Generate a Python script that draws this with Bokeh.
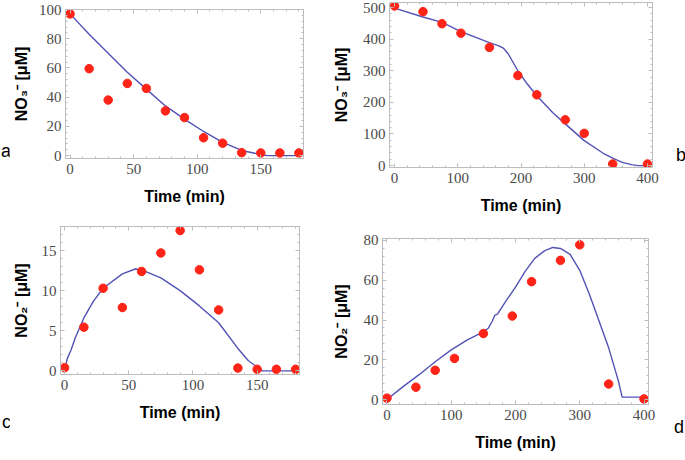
from bokeh.plotting import figure
from bokeh.layouts import column, row
from bokeh.models import Range1d, SingleIntervalTicker, LinearAxis, Div
from bokeh.embed import file_html
from bokeh.resources import INLINE

# ---------------- data ----------------
# panel a: NO3- , short experiment
a_time = [0, 15, 30, 45, 60, 75, 90, 105, 120, 135, 150, 165, 180]
a_no3 = [97, 59.5, 38, 49.4, 46, 30.6, 26, 12.2, 8.5, 2, 1.8, 1.8, 1.8]
a_fit_time = [0, 15, 30, 45, 60, 75, 90, 105, 120, 135, 150, 155, 165, 180]
a_fit_no3 = [97, 83, 70, 57, 45.5, 34, 25, 16.5, 9, 3.5, 0.7, 0, 0, 0]

# panel b: NO3- , long experiment
b_time = [0, 45, 75, 105, 150, 195, 225, 270, 300, 345, 400]
b_no3 = [505, 487, 449, 419, 374, 285, 224, 145, 102, 5, 5]
b_fit_time = [0, 45, 75, 105, 150, 165, 172, 180, 195, 210, 225, 250, 270, 300, 330, 345, 360, 375, 385, 400]
b_fit_no3 = [498, 470, 453, 424, 389, 379, 372, 353, 300, 258, 221, 168, 132, 79, 39, 24, 10, 3, 0, 0]

# panel c: NO2- , short experiment
c_time = [0, 15, 30, 45, 60, 75, 90, 105, 120, 135, 150, 165, 180]
c_no2 = [0.4, 5.45, 10.3, 7.9, 12.4, 14.7, 17.5, 12.6, 7.6, 0.35, 0.2, 0.2, 0.2]
c_fit_time = [0, 2, 5, 8.5, 15, 22.5, 30, 45, 55, 60, 75, 90, 105, 120, 135, 143, 154, 165, 180]
c_fit_no2 = [0, 1.5, 2.6, 4.2, 6.6, 8.7, 10.3, 12.1, 12.7, 12.6, 11.6, 10.0, 8.1, 6.0, 2.8, 1.3, 0, 0, 0]

# panel d: NO2- , long experiment
d_time = [0, 45, 75, 105, 150, 195, 225, 270, 300, 345, 400]
d_no2 = [0.7, 6.2, 14.7, 20.7, 33.2, 42, 59.3, 70, 77.8, 7.8, 0.3]
d_fit_time = [0, 25, 50, 75, 100, 125, 150, 158, 164, 168, 172, 176, 186, 200, 215, 230, 245, 258,
              270, 285, 300, 315, 330, 345, 360, 366, 400]
d_fit_no2 = [0, 6.5, 12.5, 19, 25, 30, 34, 36, 39.5, 42.5, 43, 45, 50, 56.5, 64.5, 71, 74.8, 76.5,
             76, 73, 65, 53, 39.5, 26, 9.5, 1.2, 1.2]

x_title = "Time (min)"
no3_title = "NO\u2083\u207b [\u03bcM]"
no2_title = "NO\u2082\u207b [\u03bcM]"
panel_letters = ["a", "b", "c", "d"]

# ---------------- styles ----------------
LINE = "#5252b6"
DOT = "#ff2417"
FRAME = "#bdbdbd"
TICKTXT = "#4a4a4a"
TICK_FONT = "Liberation Serif"
TICK_SIZE = "15px"
LAB_FONT = "Liberation Sans"
LAB_SIZE = "16px"


def style_axis(ax, labels=True):
    ax.axis_line_color = FRAME
    ax.major_tick_line_color = FRAME
    ax.minor_tick_line_color = FRAME
    ax.major_tick_in = 4
    ax.major_tick_out = 0
    ax.minor_tick_in = 2
    ax.minor_tick_out = 0
    if labels:
        ax.major_label_text_font = TICK_FONT
        ax.major_label_text_font_size = TICK_SIZE
        ax.major_label_text_color = TICKTXT
        ax.axis_label_text_font = LAB_FONT
        ax.axis_label_text_font_size = LAB_SIZE
        ax.axis_label_text_font_style = "bold"
        ax.axis_label_text_color = "black"
    else:
        ax.major_label_text_font_size = "0px"
        ax.major_label_standoff = 0
        ax.major_label_text_color = None


def panel(w, h, bl, br, bt, bb, xr, yr, xint, yint, ylabel, ylab_standoff, t, v, ft, fv):
    p = figure(width=w, height=h, min_border_left=bl, min_border_right=br,
               min_border_top=bt, min_border_bottom=bb,
               x_range=Range1d(*xr), y_range=Range1d(*yr),
               output_backend="svg", toolbar_location=None,
               x_axis_label=x_title, y_axis_label=ylabel)
    p.grid.visible = False
    p.outline_line_color = FRAME
    p.background_fill_color = "white"
    p.border_fill_color = "white"

    p.xaxis.ticker = SingleIntervalTicker(interval=xint, num_minor_ticks=5)
    p.yaxis.ticker = SingleIntervalTicker(interval=yint, num_minor_ticks=5)
    style_axis(p.xaxis[0])
    style_axis(p.yaxis[0])
    p.xaxis.major_label_standoff = 5
    p.xaxis.axis_label_standoff = 11
    p.yaxis.major_label_standoff = 4
    p.yaxis.axis_label_standoff = ylab_standoff

    top = LinearAxis(ticker=SingleIntervalTicker(interval=xint, num_minor_ticks=5))
    style_axis(top, labels=False)
    p.add_layout(top, "above")
    right = LinearAxis(ticker=SingleIntervalTicker(interval=yint, num_minor_ticks=5))
    style_axis(right, labels=False)
    p.add_layout(right, "right")

    p.line(ft, fv, line_color=LINE, line_width=1.4)
    p.scatter(t, v, size=8.5, fill_color=DOT, line_color=DOT)
    return p


def letter(txt, w, h, top, left=0):
    html = ('<div style="position:absolute; left:%dpx; top:%dpx; font-family:\'Liberation Sans\';'
            ' font-size:18px; line-height:1; color:black;">%s</div>' % (left, top, txt))
    return Div(text=html, width=w, height=h, margin=0,
               styles={"overflow": "visible"})


H1, H2 = 219, 240
WL, WA, WB, WR = 9, 320, 345, 10

pa = panel(WA, H1, 51, 26, 9, H1 - 9 - 149, (-3.6, 183.6), (-2, 100), 50, 20,
           no3_title, 6, a_time, a_no3, a_fit_time, a_fit_no3)
pb = panel(WB, H1, 55, 22, 2, H1 - 2 - 165, (-8, 408), (-6, 516), 100, 100,
           no3_title, 10, b_time, b_no3, b_fit_time, b_fit_no3)
pc = panel(WA, H2, 48, 30, 7, H2 - 7 - 148, (-3.2, 183), (-0.45, 18), 50, 5,
           no2_title, 9, c_time, c_no2, c_fit_time, c_fit_no2)
pd = panel(WB, H2, 51, 26, 19, H2 - 19 - 166, (-7, 407), (-2.5, 81), 100, 20,
           no2_title, 11, d_time, d_no2, d_fit_time, d_fit_no2)

layout = column(
    row(letter(panel_letters[0], WL, H1, 142, 1), column(pa), column(pb),
        letter(panel_letters[1], WR, H1, 146, 2)),
    row(letter(panel_letters[2], WL, H2, 194, 2), column(pc), column(pd),
        letter(panel_letters[3], WR, H2, 199, 0)),
)

open("out.html", "w").write(file_html(layout, INLINE))
